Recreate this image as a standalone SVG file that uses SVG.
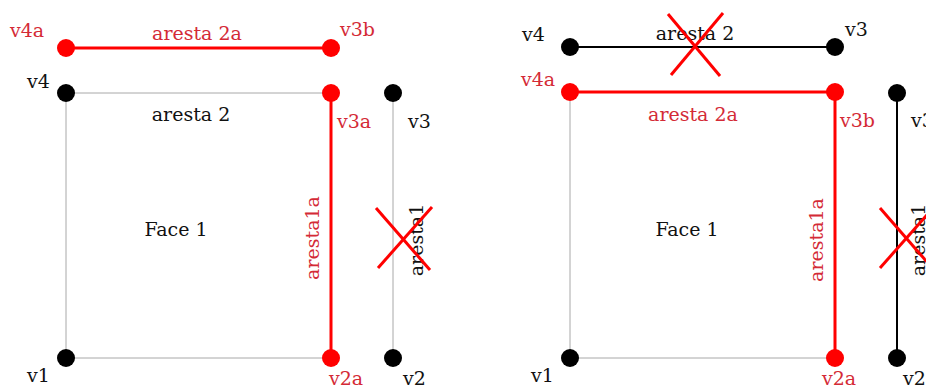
<svg xmlns="http://www.w3.org/2000/svg" width="926" height="387" viewBox="0 0 926 387">
<style>
text{font-family:"DejaVu Serif","Liberation Serif",serif;font-size:19px;fill:#111}
.r{fill:#d42a36}
.g{stroke:#a8a8a8;stroke-width:1;fill:none}
.rl{stroke:#ff0000;stroke-width:3;fill:none}
.bl{stroke:#000;stroke-width:2;fill:none}
.x{stroke:#ff0000;stroke-width:3;fill:none}
.bd{fill:#000}
.rd{fill:#ff0000}
</style>
<rect width="926" height="387" fill="#fff"/>
<g id="connectors">
<line class="g" x1="66" y1="93" x2="331" y2="93"/>
<line class="g" x1="66" y1="93" x2="66" y2="358"/>
<line class="g" x1="66" y1="358" x2="331" y2="358"/>
<line class="g" x1="393" y1="93" x2="393" y2="358"/>
<line class="rl" x1="66" y1="48" x2="331" y2="48"/>
<line class="rl" x1="331" y1="93" x2="331" y2="358"/>
<line class="bl" x1="570" y1="47" x2="835" y2="47"/>
<line class="rl" x1="570" y1="92" x2="835" y2="92"/>
<line class="g" x1="570" y1="92" x2="570" y2="358"/>
<line class="g" x1="570" y1="358" x2="835" y2="358"/>
<line class="rl" x1="835" y1="92" x2="835" y2="358"/>
<line class="bl" x1="897" y1="93" x2="897" y2="358"/>
</g>
<g id="labels-left">
<text x="197" y="40" text-anchor="middle" class="r">aresta 2a</text>
<text x="191" y="121" text-anchor="middle">aresta 2</text>
<text x="176" y="236" text-anchor="middle">Face 1</text>
<text transform="translate(319,238) rotate(-90)" text-anchor="middle" class="r">aresta1a</text>
<text transform="translate(423,240) rotate(-90)" text-anchor="middle">aresta1</text>
</g>
<g id="labels-right">
<text x="695" y="40" text-anchor="middle">aresta 2</text>
<text x="693" y="121" text-anchor="middle" class="r">aresta 2a</text>
<text x="687" y="236" text-anchor="middle">Face 1</text>
<text transform="translate(823,240) rotate(-90)" text-anchor="middle" class="r">aresta1a</text>
<text transform="translate(925,240) rotate(-90)" text-anchor="middle">aresta1</text>
</g>
<g id="cross-aresta1-left"><line class="x" x1="376" y1="208" x2="430" y2="270"/><line class="x" x1="432" y1="207" x2="378" y2="268"/></g>
<g id="cross-aresta2-right"><line class="x" x1="668" y1="14" x2="720" y2="76"/><line class="x" x1="723" y1="13" x2="671" y2="75"/></g>
<g id="cross-aresta1-right"><line class="x" x1="880" y1="208" x2="934" y2="270"/><line class="x" x1="934" y1="207" x2="880" y2="268"/></g>
<g id="v4a-left"><circle class="rd" cx="66" cy="48" r="9"/><text x="10" y="37" class="r">v4a</text></g>
<g id="v3b-left"><circle class="rd" cx="331" cy="48" r="9"/><text x="340" y="36" class="r">v3b</text></g>
<g id="v4-left"><circle class="bd" cx="66" cy="93" r="9"/><text x="27" y="88">v4</text></g>
<g id="v3a-left"><circle class="rd" cx="331" cy="93" r="9"/><text x="337" y="128" class="r">v3a</text></g>
<g id="v3-left"><circle class="bd" cx="393" cy="93" r="9"/><text x="408" y="128">v3</text></g>
<g id="v1-left"><circle class="bd" cx="66" cy="358" r="9"/><text x="27" y="382">v1</text></g>
<g id="v2a-left"><circle class="rd" cx="331" cy="358" r="9"/><text x="329" y="385" class="r">v2a</text></g>
<g id="v2-left"><circle class="bd" cx="393" cy="358" r="9"/><text x="403" y="385">v2</text></g>
<g id="v4-right"><circle class="bd" cx="570" cy="47" r="9"/><text x="522" y="41">v4</text></g>
<g id="v3-right"><circle class="bd" cx="835" cy="47" r="9"/><text x="845" y="36">v3</text></g>
<g id="v4a-right"><circle class="rd" cx="570" cy="92" r="9"/><text x="521" y="86" class="r">v4a</text></g>
<g id="v3b-right"><circle class="rd" cx="835" cy="92" r="9"/><text x="840" y="127" class="r">v3b</text></g>
<g id="v3-right-far"><circle class="bd" cx="897" cy="93" r="9"/><text x="911" y="127">v3</text></g>
<g id="v1-right"><circle class="bd" cx="570" cy="358" r="9"/><text x="531" y="382">v1</text></g>
<g id="v2a-right"><circle class="rd" cx="835" cy="358" r="9"/><text x="822" y="385" class="r">v2a</text></g>
<g id="v2-right"><circle class="bd" cx="897" cy="358" r="9"/><text x="903" y="385">v2</text></g>
</svg>
